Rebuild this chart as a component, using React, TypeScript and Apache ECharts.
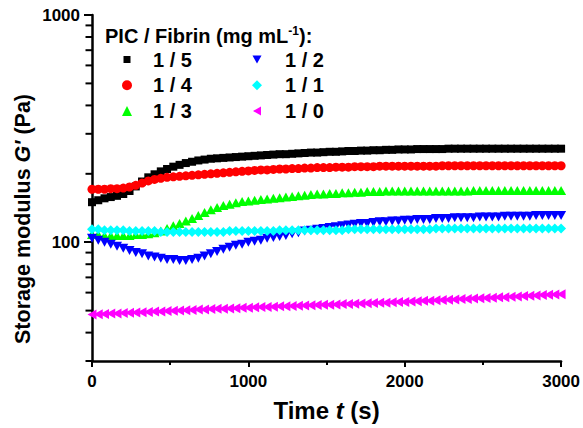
import React, { useEffect, useRef } from "react";
import * as echarts from "echarts";

// Time (s)
const timeS = [
  0, 40, 80, 120, 160, 200, 240, 280, 320, 360, 400, 440, 480, 520, 560, 600,
  640, 680, 720, 760, 800, 840, 880, 920, 960, 1000, 1040, 1080, 1120, 1160,
  1200, 1240, 1280, 1320, 1360, 1400, 1440, 1480, 1520, 1560, 1600, 1640, 1680,
  1720, 1760, 1800, 1840, 1880, 1920, 1960, 2000, 2040, 2080, 2120, 2160, 2200,
  2240, 2280, 2320, 2360, 2400, 2440, 2480, 2520, 2560, 2600, 2640, 2680, 2720,
  2760, 2800, 2840, 2880, 2920, 2960, 3000,
];

// Storage modulus G' (Pa) per PIC / Fibrin ratio
const g_1_5 = [
  150, 153, 156, 158, 160, 163, 168, 176, 185, 193, 199, 205, 210, 215, 219, 223,
  226, 229, 231, 233, 234, 235, 236, 237, 238, 239, 240, 241, 242, 243, 244, 244,
  245, 246, 247, 248, 248, 249, 250, 250, 251, 252, 252, 253, 253, 254, 254, 255,
  255, 256, 256, 256, 257, 257, 257, 257, 257, 258, 258, 258, 258, 258, 258, 258,
  258, 258, 258, 258, 258, 258, 258, 258, 258, 258, 258, 258,
];
const g_1_4 = [
  171, 171, 171, 172, 172, 173, 175, 178, 182, 186, 189, 191, 193, 194, 195, 196,
  197, 198, 199, 200, 201, 202, 203, 204, 205, 206, 207, 208, 208, 209, 210, 210,
  211, 211, 212, 212, 213, 213, 213, 214, 214, 214, 215, 215, 215, 215, 216, 216,
  216, 216, 216, 216, 216, 216, 216, 216, 217, 217, 217, 217, 217, 217, 217, 217,
  217, 217, 217, 217, 217, 217, 217, 217, 217, 217, 217, 217,
];
const g_1_3 = [
  108, 108, 107, 107, 107, 107, 107, 108, 108, 109, 110, 112, 115, 118, 121, 124,
  127, 131, 135, 139, 142, 145, 147, 149, 151, 152, 153, 154, 155, 156, 157, 158,
  159, 160, 161, 162, 163, 163, 164, 164, 165, 165, 166, 166, 167, 167, 167, 168,
  168, 168, 168, 168, 168, 168, 168, 168, 168, 168, 168, 168, 168, 169, 169, 169,
  169, 169, 169, 169, 169, 169, 169, 169, 169, 169, 169, 169,
];
const g_1_2 = [
  104, 102, 100, 98, 96, 94, 92, 90, 89, 87, 86, 85, 84, 84, 83, 83,
  84, 85, 87, 89, 91, 93, 95, 97, 98, 100, 101, 102, 104, 105, 106, 107,
  109, 110, 112, 113, 114, 115, 116, 117, 118, 119, 120, 121, 121, 122, 123, 123,
  124, 124, 125, 125, 126, 126, 126, 127, 127, 127, 128, 128, 128, 128, 129, 129,
  129, 129, 130, 130, 130, 130, 130, 131, 131, 131, 131, 131,
];
const g_1_1 = [
  114, 114, 113, 113, 113, 113, 112, 112, 112, 112, 112, 111, 111, 111, 111, 111,
  111, 111, 111, 111, 111, 111, 112, 112, 112, 112, 112, 112, 112, 112, 113, 113,
  113, 113, 113, 113, 113, 113, 113, 113, 113, 114, 114, 114, 114, 114, 114, 114,
  114, 114, 114, 114, 114, 114, 114, 115, 115, 115, 115, 115, 115, 115, 115, 115,
  115, 115, 115, 115, 115, 115, 115, 115, 115, 115, 115, 115,
];
const g_1_0 = [
  48.0, 48.2, 48.3, 48.5, 48.6, 48.8, 48.9, 49.0, 49.2, 49.3, 49.5, 49.6, 49.8,
  49.9, 50.0, 50.2, 50.3, 50.5, 50.6, 50.8, 50.9, 51.0, 51.1, 51.2, 51.4, 51.5,
  51.7, 51.8, 51.9, 52.0, 52.2, 52.3, 52.4, 52.5, 52.6, 52.8, 52.9, 53.0, 53.1,
  53.2, 53.4, 53.5, 53.6, 53.7, 53.8, 54.0, 54.1, 54.2, 54.4, 54.5, 54.6, 54.8,
  55.0, 55.2, 55.3, 55.5, 55.7, 55.8, 56.0, 56.2, 56.3, 56.5, 56.7, 56.8, 57.0,
  57.2, 57.3, 57.5, 57.7, 57.9, 58.1, 58.3, 58.5, 58.7, 58.9, 59.0,
];

const seriesNames = ["1 / 5", "1 / 4", "1 / 3", "1 / 2", "1 / 1", "1 / 0"];
const seriesValues = [g_1_5, g_1_4, g_1_3, g_1_2, g_1_1, g_1_0];
const legendCol1 = [0, 1, 2];
const legendCol2 = [3, 4, 5];

const yMajorTicks = [100, 1000];
const yMinorTicks = [30, 40, 50, 60, 70, 80, 90, 200, 300, 400, 500, 600, 700, 800, 900];

const FONT = "'Liberation Sans', Arial, Helvetica, sans-serif";

const seriesStyles = [
  { symbol: "rect", symbolSize: 8, symbolRotate: 0, color: "#000000",
    icon: "path://M0,0M10,10M1.5,1.5H8.5V8.5H1.5Z" },
  { symbol: "circle", symbolSize: 9, symbolRotate: 0, color: "#ff0000",
    icon: "path://M5,0A5,5,0,1,1,5,10A5,5,0,1,1,5,0Z" },
  { symbol: "triangle", symbolSize: [10, 9], symbolRotate: 0, color: "#00ff00",
    icon: "path://M5,0L10,10L0,10Z" },
  { symbol: "triangle", symbolSize: [10, 9], symbolRotate: 180, color: "#0000ff",
    icon: "path://M0,0M10,10M0.5,1H9.5L5,9Z" },
  { symbol: "diamond", symbolSize: [10, 10], symbolRotate: 0, color: "#00ffff",
    icon: "path://M5,0L10,5L5,10L0,5Z" },
  { symbol: "triangle", symbolSize: [10, 9], symbolRotate: 90, color: "#ff00ff",
    icon: "path://M0,0M10,10M9,0.5V9.5L1,5Z" },
];

export default function App() {
  const ref = useRef<HTMLDivElement>(null);

  useEffect(() => {
    if (!ref.current) return;
    const chart = echarts.init(ref.current, null, { renderer: "svg" });

    const series: any[] = seriesNames.map((name, k) => ({
      name,
      type: "scatter",
      symbol: seriesStyles[k].symbol,
      symbolSize: seriesStyles[k].symbolSize,
      symbolRotate: seriesStyles[k].symbolRotate,
      itemStyle: { color: seriesStyles[k].color, opacity: 1 },
      emphasis: { disabled: true },
      data: timeS.map((t, i) => [t, seriesValues[k][i]]),
      z: 2 + k,
    }));

    // minor ticks of the logarithmic y axis, placed through the axis scale
    series.push({
      type: "custom",
      name: "y minor ticks",
      clip: false,
      silent: true,
      data: yMinorTicks.map((v) => [0, v]),
      encode: { x: 0, y: 1 },
      renderItem: (_params: any, api: any) => {
        const p = api.coord([0, api.value(1)]);
        return {
          type: "line",
          shape: { x1: p[0] - 6.5, y1: p[1], x2: p[0], y2: p[1] },
          style: { stroke: "#000", lineWidth: 2 },
        };
      },
      z: 1,
    });

    const legendItems = (idx: number[]) =>
      idx.map((k) => ({ name: seriesNames[k], icon: seriesStyles[k].icon }));

    const legendCommon = {
      orient: "vertical",
      padding: 0,
      itemWidth: 10,
      itemHeight: 10,
      itemGap: 5.75,
      selectedMode: false,
      symbolKeepAspect: true,
    };
    const legendText = (pad: number) => ({
      fontFamily: FONT,
      fontWeight: "bold",
      fontSize: 20,
      color: "#000",
      lineHeight: 20,
      padding: [0, 0, 0, pad],
    });

    chart.setOption({
      animation: false,
      backgroundColor: "#ffffff",
      grid: { left: 92, top: 15, width: 470, height: 346 },
      legend: [
        { ...legendCommon, left: 122, top: 49.5, textStyle: legendText(16), data: legendItems(legendCol1) },
        { ...legendCommon, left: 252, top: 49.5, textStyle: legendText(18), data: legendItems(legendCol2) },
      ],
      graphic: [
        {
          type: "text",
          left: 105,
          top: 25,
          style: {
            text: "PIC / Fibrin (mg mL{sup|-1}):",
            fontFamily: FONT,
            fontWeight: "bold",
            fontSize: 20,
            lineHeight: 22,
            fill: "#000",
            rich: {
              sup: {
                fontFamily: FONT,
                fontWeight: "bold",
                fontSize: 12,
                lineHeight: 12,
                verticalAlign: "top",
                fill: "#000",
              },
            },
          },
        },
        {
          type: "text",
          x: 23,
          y: 219,
          rotation: Math.PI / 2,
          style: {
            text: "Storage modulus {i|G'} (Pa)",
            align: "center",
            verticalAlign: "middle",
            fontFamily: FONT,
            fontWeight: "bold",
            fontSize: 21.5,
            fill: "#000",
            rich: {
              i: { fontFamily: FONT, fontWeight: "bold", fontStyle: "italic", fontSize: 21.5, fill: "#000" },
            },
          },
        },
      ],
      xAxis: {
        type: "value",
        min: 0,
        max: 3000,
        interval: 1000,
        name: "Time {i|t} (s)",
        nameLocation: "middle",
        nameGap: 37,
        nameTextStyle: {
          fontFamily: FONT,
          fontWeight: "bold",
          fontSize: 24,
          color: "#000",
          rich: {
            i: { fontFamily: FONT, fontWeight: "bold", fontStyle: "italic", fontSize: 24, color: "#000" },
          },
        },
        axisLine: { show: true, onZero: false, lineStyle: { color: "#000", width: 2.5 } },
        axisTick: { show: true, inside: false, length: 6, lineStyle: { color: "#000", width: 2 } },
        minorTick: { show: true, splitNumber: 2, length: 4, lineStyle: { color: "#000", width: 2 } },
        splitLine: { show: false },
        minorSplitLine: { show: false },
        axisLabel: {
          margin: 12,
          fontFamily: FONT,
          fontWeight: "bold",
          fontSize: 17,
          color: "#000",
          formatter: (v: number) => String(v),
        },
      },
      yAxis: {
        type: "log",
        logBase: 10,
        min: 30,
        max: 1000,
        position: "left",
        axisLine: { show: true, lineStyle: { color: "#000", width: 2.5 } },
        axisTick: {
          show: true,
          inside: false,
          length: 8,
          customValues: yMajorTicks,
          lineStyle: { color: "#000", width: 2 },
        },
        splitLine: { show: false },
        axisLabel: {
          margin: 12,
          customValues: yMajorTicks,
          fontFamily: FONT,
          fontWeight: "bold",
          fontSize: 17,
          color: "#000",
          formatter: (v: number) => String(Math.round(v)),
        },
      },
      series,
    });

    return () => chart.dispose();
  }, []);

  return <div ref={ref} style={{ width: 583, height: 428, position: "absolute", left: 0, top: 0 }} />;
}
